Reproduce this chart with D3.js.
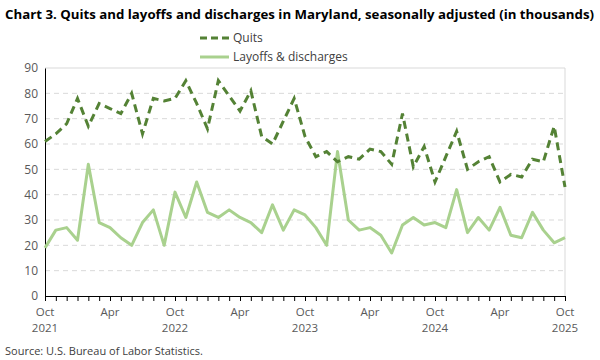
<!DOCTYPE html>
<html>
<head>
<meta charset="utf-8">
<script src="https://cdn.jsdelivr.net/npm/d3@7"></script>
<style>
  body { margin: 0; background: #fff; }
  svg { font-family: "Open Sans", "Liberation Sans", sans-serif; }
</style>
</head>
<body>
<div id="chart"></div>
<script>
// Months from Oct 2021 to Oct 2025
let months = [];
for (let i = 0; i < 49; i++) {
  months.push(new Date(2021, 9 + i, 1));
}

// Quits (thousands)
let quits = [61, 64, 68, 78, 67, 76, 74, 72, 80, 64, 78, 77,
  78, 85, 76, 66, 85, 79, 73, 81, 63, 60, 69, 78,
  63, 55, 57, 53, 55, 54, 58, 57, 52, 72, 51, 59,
  45, 55, 65, 50, 53, 55, 45, 48, 47, 54, 53, 67, 43];

// Layoffs & discharges (thousands)
let layoffs = [19, 26, 27, 22, 52, 29, 27, 23, 20, 29, 34, 20,
  41, 31, 45, 33, 31, 34, 31, 29, 25, 36, 26, 34,
  32, 27, 20, 57, 30, 26, 27, 24, 17, 28, 31, 28,
  29, 27, 42, 25, 31, 26, 35, 24, 23, 33, 26, 21, 23];

let yTicks = [0, 10, 20, 30, 40, 50, 60, 70, 80, 90];

let width = 600;
let height = 360;
let margin = { top: 68, right: 35, bottom: 64, left: 45 };

let svg = d3.select("#chart")
  .append("svg")
  .attr("width", width)
  .attr("height", height);

// scales
let xScale = d3.scaleLinear()
  .domain([0, months.length - 1])
  .range([margin.left, width - margin.right]);
let yScale = d3.scaleLinear()
  .domain([0, 90])
  .range([height - margin.bottom, margin.top]);

// title
svg.append("text")
  .attr("x", 5)
  .attr("y", 19)
  .attr("font-size", 13)
  .attr("font-weight", "bold")
  .attr("fill", "#000")
  .attr("textLength", 589)
  .attr("lengthAdjust", "spacingAndGlyphs")
  .text("Chart 3. Quits and layoffs and discharges in Maryland, seasonally adjusted (in thousands)");

// gridlines
svg.append("g")
  .selectAll("line")
  .data(yTicks.filter(d => d > 0 && d < 90))
  .enter()
  .append("line")
  .attr("x1", margin.left)
  .attr("x2", width - margin.right)
  .attr("y1", d => yScale(d))
  .attr("y2", d => yScale(d))
  .attr("stroke", "#d9d9d9")
  .attr("stroke-dasharray", "5,4");

// top and right border
svg.append("path")
  .attr("d", "M" + margin.left + "," + yScale(90) + "H" + xScale(48) + "V" + yScale(0))
  .attr("fill", "none")
  .attr("stroke", "#d9d9d9")
  .attr("stroke-width", 1);

// y axis
let yAxis = d3.axisLeft(yScale).tickValues(yTicks).tickSize(0).tickPadding(7);
let yG = svg.append("g")
  .attr("transform", "translate(" + margin.left + ",0)")
  .call(yAxis);
yG.select(".domain").attr("stroke", "#000");
yG.selectAll("text").attr("font-size", 12).attr("fill", "#595959")
  .attr("font-family", "Open Sans, sans-serif");

// x axis
let xAxis = d3.axisBottom(xScale)
  .tickValues(d3.range(0, 49))
  .tickSize(5)
  .tickFormat("");
let xG = svg.append("g")
  .attr("transform", "translate(0," + yScale(0) + ")")
  .call(xAxis);
xG.select(".domain").attr("stroke", "#000");
xG.selectAll(".tick line").attr("stroke", "#000");

// x labels every 6 months
let monthFmt = d3.timeFormat("%b");
let labelIdx = d3.range(0, 49, 6);
let xLab = svg.append("g");
labelIdx.forEach(function(i) {
  xLab.append("text")
    .attr("x", xScale(i))
    .attr("y", yScale(0) + 20)
    .attr("text-anchor", "middle")
    .attr("font-size", 11.5)
    .attr("fill", "#595959")
    .text(monthFmt(months[i]));
  if (months[i].getMonth() === 9) {
    xLab.append("text")
      .attr("x", xScale(i))
      .attr("y", yScale(0) + 36)
      .attr("text-anchor", "middle")
      .attr("font-size", 11.5)
      .attr("fill", "#595959")
      .text(months[i].getFullYear());
  }
});

// lines
let line = d3.line()
  .x((d, i) => xScale(i))
  .y(d => yScale(d));

svg.append("path")
  .datum(layoffs)
  .attr("d", line)
  .attr("fill", "none")
  .attr("stroke", "#a9d18e")
  .attr("stroke-width", 3)
  .attr("stroke-linejoin", "round");

svg.append("path")
  .datum(quits)
  .attr("d", line)
  .attr("fill", "none")
  .attr("stroke", "#548235")
  .attr("stroke-width", 3)
  .attr("stroke-dasharray", "8,5");

// legend
let legend = svg.append("g");
legend.append("line")
  .attr("x1", 200).attr("x2", 229)
  .attr("y1", 38).attr("y2", 38)
  .attr("stroke", "#548235")
  .attr("stroke-width", 3)
  .attr("stroke-dasharray", "7,4");
legend.append("text")
  .attr("x", 233).attr("y", 42)
  .attr("font-size", 12)
  .attr("fill", "#404040")
  .text("Quits");
legend.append("line")
  .attr("x1", 200).attr("x2", 229)
  .attr("y1", 57).attr("y2", 57)
  .attr("stroke", "#a9d18e")
  .attr("stroke-width", 3);
legend.append("text")
  .attr("x", 233).attr("y", 61)
  .attr("font-size", 12)
  .attr("fill", "#404040")
  .text("Layoffs & discharges");

// source
svg.append("text")
  .attr("x", 5)
  .attr("y", 355)
  .attr("font-size", 11)
  .attr("fill", "#404040")
  .text("Source: U.S. Bureau of Labor Statistics.");
</script>
</body>
</html>
